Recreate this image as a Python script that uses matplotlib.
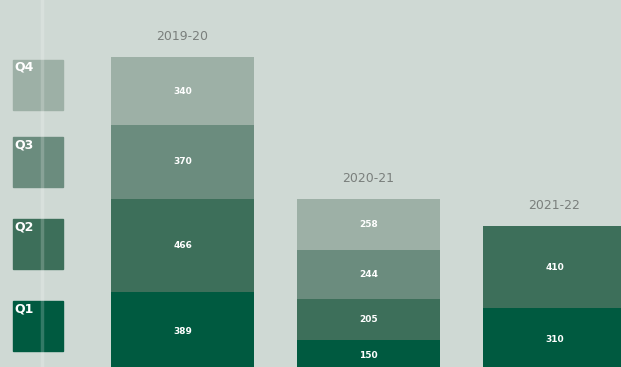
import numpy as np
import matplotlib
matplotlib.use("Agg")
import matplotlib.pyplot as plt
from matplotlib.patches import Rectangle
from matplotlib.lines import Line2D

# ---- data ------------------------------------------------------------------
years = ["2019-20", "2020-21", "2021-22"]
quarters = ["Q1", "Q2", "Q3", "Q4"]
q1 = [389, 150, 310]
q2 = [466, 205, 410]
q3 = [370, 244, 0]
q4 = [340, 258, 0]

BG = "#cfd9d4"
COLORS = ["#005a40", "#3d6f5a", "#6b8c7e", "#9db0a6"]

W, H = 621, 367
fig = plt.figure(figsize=(W / 100, H / 100), dpi=100, facecolor=BG)
ax = fig.add_axes([0, 0, 1, 1])
ax.set_facecolor(BG)

# px per unit: x 186 px per category, y 0.2 px per value
ax.set_xlim(-182.5 / 186, (W - 182.5) / 186)
ax.set_ylim(15, 1850)
ax.axis("off")

x = np.arange(len(years))
series = [q1, q2, q3, q4]
bottom = np.zeros(len(years))
for vals, col in zip(series, COLORS):
    vals = np.array(vals, dtype=float)
    ax.bar(x, vals, bottom=bottom, width=143 / 186, color=col, zorder=2)
    for xi, v, b in zip(x, vals, bottom):
        if v > 0:
            ax.text(xi, b + v / 2, f"{int(v)}", ha="center", va="center",
                    color="white", fontsize=6.5, fontweight="bold", zorder=3)
    bottom += vals

for xi, yr, tot in zip(x, years, bottom):
    ax.text(xi, tot + 70, yr, ha="center", va="bottom", color="#7a7f7c",
            fontsize=9, zorder=3)

# legend squares
sq_tops = {"Q4": 60, "Q3": 137, "Q2": 219, "Q1": 301}
for q, col in zip(quarters, COLORS):
    top = sq_tops[q]
    fig.add_artist(Rectangle((13 / W, 1 - (top + 50) / H), 50 / W, 50 / H,
                             transform=fig.transFigure, color=col, zorder=1))
    fig.text(14 / W, 1 - (top + 1) / H, q, ha="left", va="top", color="white",
             fontsize=9, fontweight="bold", zorder=4)

# faint vertical stripe over the legend column
fig.add_artist(Line2D([42 / W, 42 / W], [0, 1], transform=fig.transFigure,
                      color="white", alpha=0.2, lw=2.5, zorder=2))

fig.savefig("out.png", dpi=100, facecolor=BG)
